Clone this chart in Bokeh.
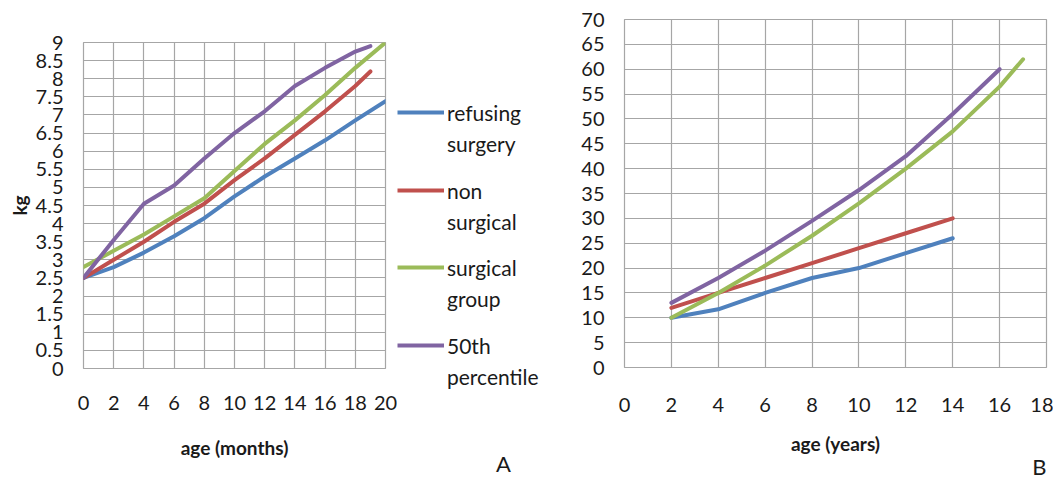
from bokeh.plotting import figure
from bokeh.layouts import row
from bokeh.models import (FixedTicker, NumeralTickFormatter, Legend, LegendItem, Title,
                          Range1d, Label)
from bokeh.embed import file_html
from bokeh.resources import INLINE

# ---------------- data: panel A (age in months, weight kg) ----------------
months_full = [0, 2, 4, 6, 8, 10, 12, 14, 16, 18, 20]
months_19 = [0, 2, 4, 6, 8, 10, 12, 14, 16, 18, 19]
a_refusing = [2.5, 2.8, 3.2, 3.65, 4.15, 4.75, 5.3, 5.8, 6.3, 6.85, 7.38]
a_nonsurg = [2.5, 3.0, 3.5, 4.05, 4.55, 5.2, 5.8, 6.45, 7.1, 7.8, 8.2]
a_surgical = [2.8, 3.25, 3.7, 4.2, 4.7, 5.45, 6.2, 6.85, 7.55, 8.3, 9.0]
a_p50 = [2.5, 3.55, 4.55, 5.05, 5.8, 6.5, 7.1, 7.8, 8.3, 8.75, 8.9]

# ---------------- data: panel B (age in years, weight kg) ----------------
years_14 = [2, 4, 6, 8, 10, 12, 14]
years_17 = [2, 4, 6, 8, 10, 12, 14, 16, 17]
years_16 = [2, 4, 6, 8, 10, 12, 14, 16]
b_refusing = [10, 11.7, 15, 18, 20, 23, 26]
b_nonsurg = [12, 15, 18, 21, 24, 27, 30]
b_surgical = [10, 15, 20.5, 26.5, 33, 40, 47.5, 56.5, 62]
b_p50 = [13, 18, 23.5, 29.5, 35.7, 42.5, 51, 60]

# legend labels, each wrapped onto two lines as in the original
series_lines = [("refusing", "surgery"), ("non", "surgical"), ("surgical", "group"), ("50th", "percentile")]
colors = ["#4F81BD", "#C0504D", "#9BBB59", "#8064A2"]
panel_letters = ["A", "B"]

x_ticks_a = list(range(0, 21, 2))
y_ticks_a = [i * 0.5 for i in range(0, 19)]
x_ticks_b = list(range(0, 19, 2))
y_ticks_b = list(range(0, 71, 5))

FONT = "Lato"
GRID = "#a6a6a6"
TXT = "#1a1a1a"
H = 477


def style(p, tick_standoff, label_standoff):
    p.outline_line_color = GRID
    p.outline_line_width = 1.2
    for ax in (p.xaxis[0], p.yaxis[0]):
        ax.axis_line_color = None
        ax.major_tick_line_color = None
        ax.minor_tick_line_color = None
        ax.major_tick_out = 0
        ax.major_tick_in = 0
        ax.major_label_text_font = FONT
        ax.major_label_text_font_size = "20px"
        ax.major_label_text_color = TXT
        ax.axis_label_text_font = FONT
        ax.axis_label_text_font_style = "bold"
        ax.axis_label_text_font_size = "19px"
        ax.axis_label_text_color = TXT
    p.xaxis.major_label_standoff = tick_standoff
    p.xaxis.axis_label_standoff = label_standoff
    p.yaxis.major_label_standoff = 20
    p.grid.grid_line_color = GRID
    p.grid.grid_line_width = 1.2
    p.grid.grid_line_alpha = 1.0


# ---------------- panel A ----------------
pa = figure(width=397, height=H, output_backend="svg", toolbar_location=None,
            x_range=Range1d(0, 20), y_range=Range1d(0, 9), frame_align=False,
            min_border_left=83, min_border_right=12, min_border_top=42, min_border_bottom=H - 368)
pa.xaxis.ticker = FixedTicker(ticks=x_ticks_a)
pa.yaxis.ticker = FixedTicker(ticks=y_ticks_a)
pa.yaxis.formatter = NumeralTickFormatter(format="0.[0]")
pa.xaxis.axis_label = "age (months)"
pa.yaxis.axis_label = "kg"
style(pa, 27, 23)
pa.yaxis.axis_label_standoff = 2

xs_a = [months_full, months_19, months_full, months_19]
ys_a = [a_refusing, a_nonsurg, a_surgical, a_p50]
for xs, ys, c in zip(xs_a, ys_a, colors):
    pa.line(xs, ys, line_color=c, line_width=4, line_cap="round", line_join="round")

# ---------------- legend area (right of panel A) ----------------
pl = figure(width=163, height=H, output_backend="svg", toolbar_location=None,
            x_range=Range1d(0, 1), y_range=Range1d(0, 1), frame_align=False,
            x_axis_type=None, y_axis_type=None, min_border=0,
            outline_line_color=None)
legend_bottoms = [319, 241, 164, 86]
for xs, ys, c, (l1, l2), yb in zip(xs_a, ys_a, colors, series_lines, legend_bottoms):
    r = pl.line(xs, ys, line_color=c, line_width=4, visible=False)
    lg = Legend(items=[LegendItem(label=l1, renderers=[r]), LegendItem(label=l2, renderers=[])],
                location=(0, yb), orientation="vertical",
                glyph_width=47, glyph_height=30, label_height=30, label_standoff=3,
                label_text_font=FONT, label_text_font_size="21px", label_text_color=TXT,
                label_text_baseline="middle",
                spacing=1, padding=0, margin=0,
                border_line_color=None, background_fill_alpha=0, inactive_fill_alpha=0)
    pl.add_layout(lg)
pl.add_layout(Label(x=106, y=14, x_units="screen", y_units="screen", text=panel_letters[0],
                    text_align="center", text_baseline="middle",
                    text_font=FONT, text_font_size="22px", text_color=TXT))

# ---------------- panel B ----------------
pb = figure(width=493, height=H, output_backend="svg", toolbar_location=None,
            x_range=Range1d(0, 18), y_range=Range1d(0, 70), frame_align=False,
            min_border_left=64, min_border_right=7, min_border_top=19, min_border_bottom=H - 367)
pb.xaxis.ticker = FixedTicker(ticks=x_ticks_b)
pb.yaxis.ticker = FixedTicker(ticks=y_ticks_b)
pb.xaxis.axis_label = "age (years)"
style(pb, 30, 17)

xs_b = [years_14, years_14, years_17, years_16]
ys_b = [b_refusing, b_nonsurg, b_surgical, b_p50]
for xs, ys, c in zip(xs_b, ys_b, colors):
    pb.line(xs, ys, line_color=c, line_width=4, line_cap="round", line_join="round")

pb.add_layout(Title(text=panel_letters[1], align="right", offset=0, standoff=-12,
                    vertical_align="middle",
                    text_font=FONT, text_font_size="22px", text_font_style="normal",
                    text_color=TXT), "below")

layout = row(pa, pl, pb)
open("out.html", "w").write(file_html(layout, INLINE))
